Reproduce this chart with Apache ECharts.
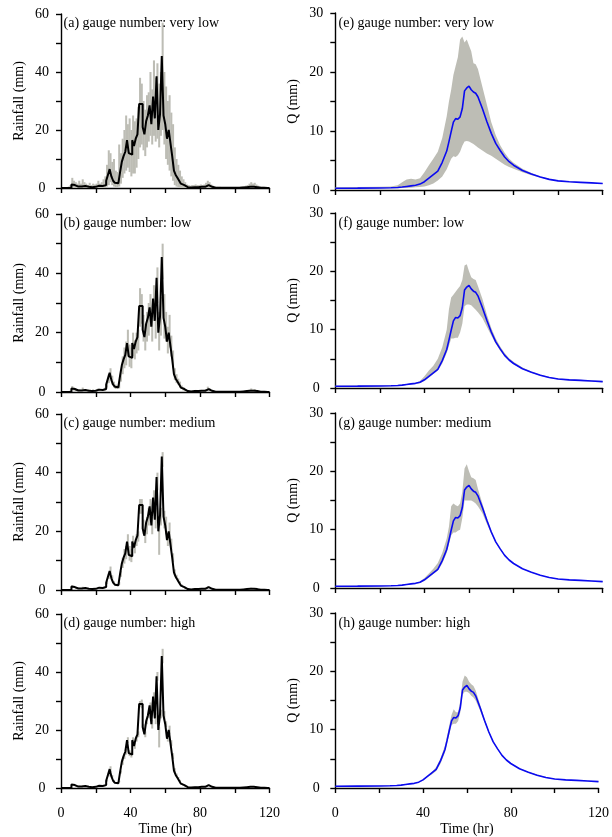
<!DOCTYPE html>
<html><head><meta charset="utf-8">
<script src="https://cdn.jsdelivr.net/npm/echarts@6/dist/echarts.min.js"></script>
<style>html,body{margin:0;padding:0;background:#fff}#c{width:612px;height:837px}</style>
</head><body><div id="c"></div>
<script>
// ---------- DATA ----------
// hourly rainfall (black step line), hours 0..119
const rain = [
0,0,0,0,0,0,1.2,1.0,0.6,0.5,
0.7,0.5,0.9,0.7,0.5,0.4,0.6,0.3,0.6,0.4,
0.5,0.8,0.5,0.7,0.6,1.0,2.5,4.5,6.5,4.0,
2.5,1.8,1.6,2.2,5.5,9.0,11.0,12.5,16.5,12.0,
11.5,16.5,14.5,17.0,18.5,29.0,29.0,21.0,18.5,23.0,
25.0,28.5,22.0,31.5,24.0,38.5,20.0,25.5,45.5,25.0,
22.0,17.0,20.0,15.5,11.0,6.0,4.5,3.5,2.5,1.5,
1.0,0.5,0.3,0.3,0.2,0.3,0.3,0.4,0.3,0.3,
0.4,0.3,0.4,0.6,1.0,0.8,0.4,0.2,0.1,0.1,
0.1,0.1,0.1,0.1,0.1,0.1,0.1,0.1,0.1,0.1,
0.1,0.1,0.1,0.1,0.2,0.2,0.3,0.3,0.4,0.5,
0.4,0.5,0.3,0.2,0.1,0.1,0.1,0.1,0,0];

// rainfall uncertainty ranges (gray) per gauge-number scenario
const rainHiVeryLow = [
0,0,0,0.3,0.5,1.0,3.5,2.5,2.0,1.5,
2.5,1.5,3.0,2.0,1.5,1.0,1.8,1.0,1.5,1.2,
1.5,2.5,1.5,2.0,3.0,4.0,8.0,13.0,12.0,9.0,
10.0,6.0,5.5,15.0,12.0,17.0,20.0,25.0,22.0,24.0,
20.0,25.0,23.0,24.0,28.0,38.0,36.0,30.0,27.0,32.0,
33.0,40.0,34.0,44.0,38.0,43.0,36.0,40.0,57.0,40.0,
35.0,30.0,32.0,26.0,22.0,14.0,10.0,8.0,6.0,4.0,
3.0,2.0,1.2,1.0,0.8,1.0,1.0,1.2,1.0,1.0,
1.2,1.0,1.2,1.8,2.5,2.0,1.2,0.8,0.5,0.4,
0.4,0.4,0.3,0.3,0.3,0.3,0.3,0.3,0.3,0.3,
0.3,0.3,0.3,0.5,0.6,0.6,0.8,1.0,1.5,2.0,
1.5,1.8,1.2,0.8,0.5,0.4,0.4,0.3,0.2,0.1];
const rainLoVeryLow = [
0,0,0,0,0,0,0,0,0,0,
0,0,0,0,0,0,0,0,0,0,
0,0,0,0,0,0,0.5,1.0,2.0,1.0,
0.5,0.3,0.3,0.5,1.5,3.5,5.0,6.0,7.0,5.5,
4.0,5.0,5.0,7.0,10.0,14.0,15.0,13.0,11.0,14.0,
16.0,18.0,15.0,18.0,16.0,17.0,14.0,18.0,20.0,15.0,
10.0,8.0,6.0,4.0,2.5,1.0,0.5,0.3,0.2,0.1,
0,0,0,0,0,0,0,0,0,0,
0,0,0,0,0,0,0,0,0,0,
0,0,0,0,0,0,0,0,0,0,
0,0,0,0,0,0,0,0,0,0,
0,0,0,0,0,0,0,0,0,0];
const rainHiLow = [
0,0,0,0,0.2,0.5,2.0,1.5,1.0,0.8,
1.0,0.8,1.5,1.0,0.8,0.6,1.0,0.5,0.9,0.6,
0.8,1.2,0.8,1.0,1.0,1.5,3.5,6.0,8.0,5.5,
3.5,2.5,2.2,3.5,7.5,12.0,15.0,17.0,21.0,16.0,
15.0,20.0,17.5,20.0,21.0,35.0,33.0,26.0,23.0,27.0,
30.0,33.0,28.0,36.0,30.0,42.0,27.0,32.0,50.0,33.0,
27.0,22.0,26.0,19.0,14.0,8.0,6.0,4.5,3.5,2.2,
1.5,0.8,0.5,0.5,0.4,0.5,0.5,0.7,0.5,0.5,
0.7,0.5,0.7,1.0,1.8,1.3,0.7,0.4,0.2,0.2,
0.2,0.2,0.2,0.2,0.2,0.2,0.2,0.2,0.2,0.2,
0.2,0.2,0.2,0.2,0.3,0.4,0.5,0.6,0.8,1.2,
0.8,1.0,0.6,0.4,0.2,0.2,0.2,0.2,0.1,0];
const rainLoLow = [
0,0,0,0,0,0,0.6,0.5,0.3,0.2,
0.3,0.2,0.4,0.3,0.2,0.2,0.3,0.1,0.3,0.2,
0.2,0.4,0.2,0.3,0.3,0.5,1.5,3.0,4.5,2.5,
1.5,1.0,1.0,1.2,3.5,6.0,8.0,9.0,12.0,8.5,
8.0,12.0,11.0,13.0,14.0,22.0,23.0,17.0,14.0,17.0,
19.0,22.0,17.0,24.0,18.0,30.0,14.0,19.0,38.0,18.0,
17.0,13.0,15.0,12.0,8.0,4.0,3.0,2.5,1.5,1.0,
0.5,0.2,0.1,0.1,0.1,0.1,0.1,0.2,0.1,0.1,
0.2,0.1,0.2,0.3,0.5,0.4,0.2,0.1,0,0,
0,0,0,0,0,0,0,0,0,0,
0,0,0,0,0.1,0.1,0.1,0.1,0.2,0.2,
0.2,0.2,0.1,0.1,0,0,0,0,0,0];
const rainHiMedium = [
0,0,0,0,0.1,0.3,1.6,1.3,0.8,0.6,
0.8,0.6,1.1,0.8,0.6,0.5,0.7,0.4,0.7,0.5,
0.6,1.0,0.6,0.8,0.8,1.2,3.0,5.5,8.0,5.0,
3.0,2.2,2.0,2.8,6.5,11.0,14.0,15.0,19.0,15.0,
14.0,18.5,16.5,19.0,20.0,31.0,31.0,24.0,21.0,25.0,
28.0,31.0,25.0,34.0,28.0,40.0,23.0,28.0,47.0,27.0,
25.0,19.0,23.0,17.5,12.5,7.0,5.2,4.0,3.0,1.9,
1.3,0.7,0.4,0.4,0.3,0.4,0.4,0.5,0.4,0.4,
0.5,0.4,0.5,0.8,1.3,1.0,0.5,0.3,0.2,0.2,
0.2,0.2,0.2,0.2,0.2,0.2,0.2,0.2,0.2,0.2,
0.2,0.2,0.2,0.2,0.3,0.3,0.4,0.4,0.6,0.8,
0.6,0.7,0.4,0.3,0.2,0.2,0.2,0.2,0.1,0];
const rainLoMedium = [
0,0,0,0,0,0,0.8,0.7,0.4,0.3,
0.5,0.3,0.6,0.5,0.3,0.3,0.4,0.2,0.4,0.3,
0.3,0.5,0.3,0.5,0.4,0.7,2.0,3.8,5.5,3.2,
2.0,1.5,1.3,1.8,4.5,7.5,9.0,10.5,14.0,10.0,
9.5,14.0,12.5,15.0,16.5,26.0,26.0,19.0,16.0,19.0,
22.0,25.0,19.0,27.0,21.0,34.0,12.0,22.0,42.0,21.0,
19.0,15.0,17.0,13.5,9.5,5.0,3.8,3.0,2.0,1.2,
0.8,0.4,0.2,0.2,0.1,0.2,0.2,0.3,0.2,0.2,
0.3,0.2,0.3,0.4,0.7,0.6,0.3,0.1,0,0,
0,0,0,0,0,0,0,0,0,0,
0,0,0,0,0.1,0.1,0.2,0.2,0.3,0.3,
0.3,0.3,0.2,0.1,0,0,0,0,0,0];
const rainHiHigh = [
0,0,0,0,0,0.1,1.4,1.1,0.7,0.6,
0.8,0.6,1.0,0.8,0.6,0.5,0.7,0.4,0.7,0.5,
0.6,0.9,0.6,0.8,0.7,1.1,2.8,5.0,7.5,4.5,
2.8,2.0,1.8,2.5,6.0,10.0,12.0,13.5,17.5,13.0,
12.5,17.5,15.5,18.0,19.5,30.0,30.5,22.0,19.5,24.0,
26.0,29.5,23.5,33.0,26.0,40.0,21.0,27.0,48.0,26.5,
23.0,18.0,21.5,16.5,12.0,6.8,5.0,3.8,2.8,1.7,
1.2,0.6,0.4,0.4,0.3,0.4,0.4,0.5,0.4,0.4,
0.5,0.4,0.5,0.7,1.1,0.9,0.5,0.3,0.2,0.2,
0.2,0.2,0.2,0.2,0.2,0.2,0.2,0.2,0.2,0.2,
0.2,0.2,0.2,0.2,0.3,0.3,0.4,0.4,0.5,0.6,
0.5,0.6,0.4,0.3,0.2,0.2,0.2,0.2,0.1,0];
const rainLoHigh = [
0,0,0,0,0,0,1.0,0.9,0.5,0.4,
0.6,0.4,0.8,0.6,0.4,0.3,0.5,0.2,0.5,0.3,
0.4,0.7,0.4,0.6,0.5,0.9,2.2,4.0,5.5,3.5,
2.2,1.6,1.4,2.0,5.0,8.0,10.0,11.5,15.5,11.0,
10.5,15.5,13.5,16.0,17.5,28.0,27.5,19.5,17.5,22.0,
24.0,27.5,20.5,30.0,22.0,37.0,14.0,24.0,43.0,23.5,
21.0,16.0,18.5,14.5,10.0,5.2,4.0,3.2,2.2,1.3,
0.8,0.4,0.2,0.2,0.1,0.2,0.2,0.3,0.2,0.2,
0.3,0.2,0.3,0.5,0.9,0.7,0.3,0.1,0,0,
0,0,0,0,0,0,0,0,0,0,
0,0,0,0,0.1,0.1,0.2,0.2,0.3,0.4,
0.3,0.4,0.2,0.1,0,0,0,0,0,0];

// discharge: time points (hr), simulated Q (blue) and uncertainty bands
const tQ = [0,10,20,25,28,30,32,34,36,38,40,42,44,46,48,50,51,52,53,54,55,56,57,58,59,60,61,62,63,64,66,68,70,72,74,76,78,80,84,88,92,96,100,105,110,115,120];
const qMain = [0.3,0.32,0.35,0.38,0.42, 0.5,0.6,0.7,0.8,1.0, 1.4,2.0,2.6,3.2,4.7, 6.6,8.2,9.9,11.5,12.1,12.0,12.4,13.8,16.8,17.3,17.6,17.0,16.6,16.4,15.8, 13.8,11.6,9.6,7.9,6.7, 5.6,4.8,4.2,3.3,2.7, 2.2,1.8,1.55,1.4,1.3, 1.2,1.1];
const qHiVeryLow = [0.45,0.5,0.55,0.6,0.8, 1.3,1.8,1.9,1.8,2.0, 3.0,4.2,5.3,6.5,8.8, 12.5,15.0,17.0,19.5,21.0,22.5,25.5,26.0,25.0,25.5,24.5,23.5,21.5,21.3,20.5, 17.5,14.5,11.5,9.3,7.6, 6.3,5.3,4.6,3.6,2.9, 2.3,1.9,1.65,1.5,1.35, 1.25,1.15];
const qLoVeryLow = [0.2,0.22,0.25,0.28,0.3, 0.32,0.35,0.4,0.45,0.5, 0.6,0.8,1.1,1.6,2.3, 3.5,4.4,5.3,5.7,5.6,5.9,6.5,7.5,8.2,8.3,8.2,8.0,7.8,7.5,7.2, 6.7,6.2,5.8,5.3,4.8, 4.3,3.9,3.6,3.0,2.5, 2.1,1.75,1.5,1.35,1.25, 1.15,1.0];
const qHiLow = [0.4,0.42,0.45,0.48,0.52, 0.6,0.7,0.8,0.9,1.2, 2.0,3.0,3.8,5.0,7.0, 10.0,13.5,15.5,16.0,16.5,17.0,17.5,18.5,21.0,21.2,20.0,19.0,18.7,18.5,17.5, 15.3,12.6,10.3,8.5,7.1, 6.0,5.1,4.5,3.5,2.85, 2.3,1.9,1.65,1.5,1.4, 1.3,1.2];
const qLoLow = [0.2,0.22,0.25,0.28,0.32, 0.4,0.5,0.6,0.68,0.8, 1.2,1.8,2.4,3.0,4.2, 6.0,7.2,8.5,8.5,8.6,8.6,9.5,11.0,14.0,14.3,14.3,14.2,13.8,13.4,13.0, 12.0,10.5,9.0,7.6,6.4, 5.4,4.7,4.1,3.2,2.6, 2.1,1.7,1.45,1.3,1.2, 1.1,1.0];
const qHiMedium = [0.35,0.37,0.4,0.43,0.47, 0.55,0.65,0.75,0.85,1.1, 1.7,2.5,3.3,4.3,6.0, 8.5,10.5,14.0,14.5,14.2,14.0,14.5,16.5,20.5,21.2,20.0,19.0,18.8,18.5,17.0, 14.5,12.0,9.8,8.0,6.8, 5.7,4.85,4.25,3.35,2.75, 2.25,1.85,1.6,1.45,1.35, 1.25,1.15];
const qLoMedium = [0.25,0.27,0.3,0.33,0.38, 0.45,0.55,0.65,0.72,0.85, 1.2,1.8,2.4,3.0,4.2, 6.0,7.5,9.0,9.5,9.5,9.8,10.0,12.0,15.0,15.0,15.0,15.0,14.8,14.5,14.0, 12.8,11.0,9.3,7.8,6.6, 5.5,4.75,4.15,3.25,2.65, 2.15,1.75,1.5,1.35,1.25, 1.15,1.05];
const qHiHigh = [0.35,0.37,0.4,0.43,0.47, 0.55,0.65,0.75,0.83,1.0, 1.5,2.1,2.7,3.6,5.1, 7.3,9.0,10.8,12.5,13.5,13.0,13.0,15.0,18.2,19.3,19.0,18.2,17.8,17.5,16.7, 14.3,11.9,9.8,8.0,6.8, 5.7,4.9,4.3,3.4,2.8, 2.3,1.9,1.6,1.45,1.35, 1.25,1.15];
const qLoHigh = [0.25,0.27,0.3,0.33,0.37, 0.45,0.55,0.65,0.73,0.9, 1.3,1.9,2.3,2.9,4.2, 6.1,7.7,9.2,10.8,11.0,11.0,11.5,13.0,16.0,16.5,16.5,16.3,15.8,15.5,15.0, 13.3,11.3,9.4,7.8,6.6, 5.5,4.7,4.1,3.2,2.6, 2.1,1.7,1.5,1.35,1.25, 1.15,1.05];

const rainTitles = ['(a) gauge number: very low','(b) gauge number: low','(c) gauge number: medium','(d) gauge number: high'];
const qTitles = ['(e) gauge number: very low','(f) gauge number: low','(g) gauge number: medium','(h) gauge number: high'];
const rainXTicks = [0,40,80,120];

// ---------- LAYOUT / STYLE ----------
const FONT = 'Liberation Serif';
const GRAY = '#bdbdb5';
const rainRanges = [[rainLoVeryLow,rainHiVeryLow],[rainLoLow,rainHiLow],[rainLoMedium,rainHiMedium],[rainLoHigh,rainHiHigh]];
const qRanges = [[qLoVeryLow,qHiVeryLow],[qLoLow,qHiLow],[qLoMedium,qHiMedium],[qLoHigh,qHiHigh]];
const leftBoxes = [[14,174],[214,178],[414,176],[614,174]];
const rightBoxes = [[13,177],[213,175],[413,175],[613,175]];
const LX = 61, LW = 208.5, RX = 335.3, RW = 267.4;

const grids = [], xAxes = [], yAxes = [], series = [], titles = [];
const txt = (size) => ({fontFamily: FONT, fontSize: size, color: '#000'});
const axisLineS = {show: true, lineStyle: {color: '#000', width: 1.4}};
const tickS = {show: true, length: 5, lineStyle: {color: '#000', width: 1.4}};

function addPanel(idx, left, width, box, yMax, yInt, yLabStep, yName, isBottom) {
  grids.push({left: left, top: box[0], width: width, height: box[1]});
  xAxes.push({
    gridIndex: idx, type: 'value', min: 0, max: 120, interval: 20,
    axisLine: axisLineS, axisTick: tickS, splitLine: {show: false},
    axisLabel: {show: isBottom, margin: 18, ...txt(14),
      formatter: v => rainXTicks.indexOf(v) >= 0 ? String(v) : ''},
    name: isBottom ? 'Time (hr)' : '', nameLocation: 'middle', nameGap: 34,
    nameTextStyle: txt(14)
  });
  yAxes.push({
    gridIndex: idx, type: 'value', min: 0, max: yMax, interval: yInt,
    axisLine: axisLineS, axisTick: tickS, splitLine: {show: false},
    axisLabel: {margin: 19, align: 'center', ...txt(14),
      formatter: v => (Math.round(v) % yLabStep === 0) ? String(v) : ''},
    name: yName, nameLocation: 'middle', nameGap: 35, nameRotate: 90,
    nameTextStyle: txt(14)
  });
}

for (let i = 0; i < 4; i++) {
  const li = i * 2, ri = i * 2 + 1;
  addPanel(li, LX, LW, leftBoxes[i], 60, 10, 20, 'Rainfall (mm)', i === 3);
  addPanel(ri, RX, RW, rightBoxes[i], 30, 5, 10, 'Q (mm)', i === 3);
  titles.push({text: rainTitles[i], left: 63.5, top: leftBoxes[i][0] + 2, padding: 0,
    textStyle: {fontFamily: FONT, fontSize: 14, fontWeight: 'normal', color: '#000'}});
  titles.push({text: qTitles[i], left: 338.5, top: rightBoxes[i][0] + 3, padding: 0,
    textStyle: {fontFamily: FONT, fontSize: 14, fontWeight: 'normal', color: '#000'}});

  // rainfall uncertainty (gray hourly bars)
  const lo = rainRanges[i][0], hi = rainRanges[i][1];
  series.push({
    type: 'custom', xAxisIndex: li, yAxisIndex: li, silent: true,
    data: rain.map((r, h) => [h, lo[h], hi[h]]),
    encode: {x: 0, y: [1, 2]},
    renderItem: function (params, api) {
      const h = api.value(0), l = api.value(1), u = api.value(2);
      if (!(u > l)) return null;
      const p1 = api.coord([h, u]), p2 = api.coord([h + 1, l]);
      return {type: 'rect', shape: {x: p1[0] - 0.15, y: p1[1], width: p2[0] - p1[0] + 0.3, height: p2[1] - p1[1]},
        style: {fill: GRAY}};
    }
  });
  // rainfall step line
  const stepData = rain.map((r, h) => [h, r]);
  stepData.push([rain.length, rain[rain.length - 1]]);
  series.push({
    type: 'line', xAxisIndex: li, yAxisIndex: li, step: 'end', silent: true,
    symbol: 'none', data: stepData, lineStyle: {color: '#000', width: 2}
  });

  // discharge uncertainty band
  const qlo = qRanges[i][0], qhi = qRanges[i][1];
  series.push({
    type: 'custom', xAxisIndex: ri, yAxisIndex: ri, silent: true,
    data: tQ.map((t, k) => [t, qlo[k], qhi[k]]),
    encode: {x: 0, y: [1, 2]},
    renderItem: function (params, api) {
      if (params.dataIndex !== 0) return null;
      const pts = [];
      for (let k = 0; k < tQ.length; k++) pts.push(api.coord([tQ[k], qhi[k]]));
      for (let k = tQ.length - 1; k >= 0; k--) pts.push(api.coord([tQ[k], qlo[k]]));
      return {type: 'polygon', shape: {points: pts}, style: {fill: GRAY}};
    }
  });
  // discharge line
  series.push({
    type: 'line', xAxisIndex: ri, yAxisIndex: ri, silent: true, symbol: 'none',
    data: tQ.map((t, k) => [t, qMain[k]]), lineStyle: {color: '#0a0af0', width: 1.6}
  });
}

const chart = echarts.init(document.getElementById('c'), null, {renderer: 'canvas'});
chart.setOption({
  animation: false, backgroundColor: '#fff',
  title: titles, grid: grids, xAxis: xAxes, yAxis: yAxes, series: series
});
</script></body></html>
